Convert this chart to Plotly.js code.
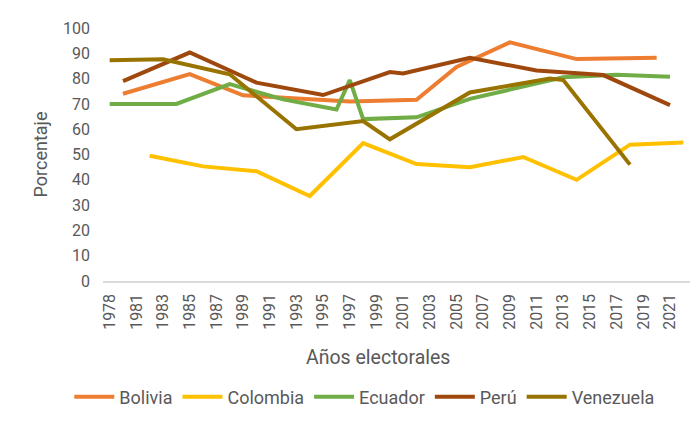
<!DOCTYPE html>
<html>
<head>
<meta charset="utf-8">
<script src="https://cdn.plot.ly/plotly-3.0.1.min.js"></script>
<style>
  html, body { margin: 0; padding: 0; background: #ffffff; }
  #chart { width: 699px; height: 424px; }
  #frame { position: absolute; left: 4px; top: 0; width: 1px; height: 424px; background: #d9d9d9; }
</style>
</head>
<body>
<div id="frame"></div>
<div id="chart"></div>
<script>
// Category slots (Excel-style category axis, every other slot labelled)
const categories = ["1978","1980","1981","1982","1983","1984","1985","1986","1987","1988","1989","1990","1991","1992","1993","1994","1995","1996","1997","1998","1999","2000","2001","2002","2003","2004","2005","2006","2007","2008","2009","2010","2011","2012","2013","2014","2015","2016","2017","2018","2019","2020","2021","2022"];
const tickLabels = ["1978","1981","1983","1985","1987","1989","1991","1993","1995","1997","1999","2001","2003","2005","2007","2009","2011","2013","2015","2017","2019","2021"];

const boliviaYears = ["1980","1985","1989","1993","1997","2002","2005","2009","2014","2020"];
const boliviaValues = [74.0, 81.8, 73.4, 72.0, 70.9, 71.6, 84.6, 94.3, 87.7, 88.2];

const colombiaYears = ["1982","1986","1990","1994","1998","2002","2006","2010","2014","2018","2022"];
const colombiaValues = [49.5, 45.3, 43.4, 33.6, 54.5, 46.2, 45.0, 49.0, 40.0, 53.9, 54.7];

const ecuadorYears = ["1978","1984","1988","1992","1996","1997","1998","2002","2006","2009","2013","2017","2021"];
const ecuadorValues = [70.0, 70.0, 77.8, 71.8, 67.8, 79.4, 64.0, 64.7, 72.0, 75.5, 80.5, 81.5, 80.7];

const peruYears = ["1980","1985","1990","1995","2000","2001","2006","2011","2016","2021"];
const peruValues = [79.0, 90.3, 78.4, 73.5, 82.6, 82.0, 88.2, 83.2, 81.4, 69.5];

const venezuelaYears = ["1978","1983","1988","1993","1998","2000","2006","2012","2013","2018"];
const venezuelaValues = [87.3, 87.6, 81.7, 60.0, 63.2, 56.0, 74.5, 80.0, 79.4, 46.0];

const series = [
  {name: "Bolivia", x: boliviaYears, y: boliviaValues, color: "#ED7D31"},
  {name: "Colombia", x: colombiaYears, y: colombiaValues, color: "#FFC000"},
  {name: "Ecuador", x: ecuadorYears, y: ecuadorValues, color: "#70AD47"},
  {name: "Perú", x: peruYears, y: peruValues, color: "#9E480E"},
  {name: "Venezuela", x: venezuelaYears, y: venezuelaValues, color: "#997300"}
];

const traces = series.map(s => ({
  type: "scatter",
  mode: "lines",
  name: s.name,
  x: s.x,
  y: s.y,
  line: {color: s.color, width: 4}
}));

const font = "Roboto, 'Noto Sans', sans-serif";

const layout = {
  width: 699,
  height: 424,
  margin: {l: 103, r: 9, t: 28, b: 141},
  paper_bgcolor: "#ffffff",
  plot_bgcolor: "#ffffff",
  font: {family: font, color: "#595959", size: 16},
  showlegend: true,
  legend: {
    orientation: "h",
    x: 0.446, xanchor: "center",
    y: -0.459, yanchor: "middle",
    font: {family: font, size: 18, color: "#595959"},
    itemwidth: 40,
    tracegroupgap: 0
  },
  xaxis: {
    type: "category",
    categoryorder: "array",
    categoryarray: categories,
    range: [-0.5, categories.length - 0.5],
    tickmode: "array",
    tickvals: tickLabels,
    ticktext: tickLabels,
    tickangle: -90,
    ticks: "",
    ticklabelstandoff: 5,
    showgrid: false,
    zeroline: false,
    showline: true,
    linecolor: "#d9d9d9",
    linewidth: 1.5,
    tickfont: {family: font, size: 16, color: "#595959"},
    automargin: false
  },
  yaxis: {
    range: [0, 100],
    tickmode: "linear",
    tick0: 0,
    dtick: 10,
    ticks: "",
    ticklabelstandoff: 12,
    showgrid: false,
    zeroline: false,
    showline: false,
    tickfont: {family: font, size: 16, color: "#595959"},
    title: {text: "Porcentaje", font: {family: font, size: 18, color: "#595959"}, standoff: 10},
    automargin: false
  },
  annotations: [{
    text: "Años electorales",
    xref: "paper", yref: "paper",
    x: 0.4685, y: -0.302,
    xanchor: "center", yanchor: "middle",
    showarrow: false,
    font: {family: font, size: 19.5, color: "#595959"}
  }]
};

Plotly.newPlot("chart", traces, layout, {displayModeBar: false, staticPlot: true});
</script>
</body>
</html>
